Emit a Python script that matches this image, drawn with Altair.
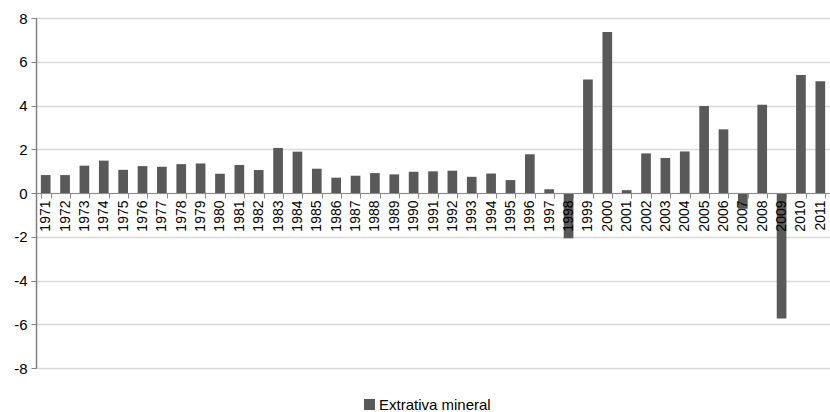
import altair as alt
import pandas as pd

years = ["1971", "1972", "1973", "1974", "1975", "1976", "1977", "1978", "1979", "1980",
         "1981", "1982", "1983", "1984", "1985", "1986", "1987", "1988", "1989", "1990",
         "1991", "1992", "1993", "1994", "1995", "1996", "1997", "1998", "1999", "2000",
         "2001", "2002", "2003", "2004", "2005", "2006", "2007", "2008", "2009", "2010",
         "2011"]
values = [0.82, 0.82, 1.25, 1.48, 1.06, 1.23, 1.20, 1.32, 1.35, 0.88,
          1.28, 1.05, 2.06, 1.89, 1.11, 0.70, 0.79, 0.91, 0.85, 0.97,
          0.99, 1.02, 0.74, 0.89, 0.59, 1.77, 0.17, -2.07, 5.19, 7.36,
          0.13, 1.81, 1.60, 1.90, 3.98, 2.91, -0.72, 4.03, -5.74, 5.39,
          5.11]
series_name = "Extrativa mineral"
y_ticks = [-8, -6, -4, -2, 0, 2, 4, 6, 8]

df = pd.DataFrame({"ano": years, "valor": values, "serie": [series_name] * len(years)})

FONT = "Liberation Sans"
PLOT_H = 350

chart = alt.Chart(df).mark_bar(color="#595959").encode(
    x=alt.X("ano:N", sort=years, title=None,
            scale=alt.Scale(paddingInner=0.5, paddingOuter=0.25),
            axis=alt.Axis(labelAngle=270, labelFontSize=14, labelFont=FONT,
                          labelColor="#000000", labelPadding=2,
                          tickBand="extent", tickSize=5, tickColor="#8c8c8c",
                          domainColor="#8c8c8c", domainWidth=1,
                          offset=-PLOT_H / 2, grid=False, zindex=1)),
    y=alt.Y("valor:Q", title=None,
            scale=alt.Scale(domain=[-8, 8], nice=False, zero=False),
            axis=alt.Axis(values=y_ticks, labelFontSize=15, labelFont=FONT,
                          labelColor="#000000", tickSize=5, tickColor="#808080",
                          domainColor="#808080", domainWidth=1.5,
                          labelExpr="toString(datum.value)",
                          gridColor="#d9d9d9", gridWidth=1.3, labelPadding=4)),
    color=alt.Color("serie:N", title=None,
                    scale=alt.Scale(domain=[series_name], range=["#595959"]),
                    legend=alt.Legend(orient="none", legendX=326, legendY=379,
                                      symbolType="square", symbolSize=120,
                                      symbolStrokeWidth=0, labelFontSize=15,
                                      labelFont=FONT, labelColor="#000000",
                                      labelOffset=2)),
).properties(
    width=794,
    height=PLOT_H,
    autosize=alt.AutoSizeParams(type="none"),
    padding={"left": 36, "top": 18, "right": 0, "bottom": 44},
    background="white",
).configure_view(stroke=None)

chart.save("out.html", embed_options={"renderer": "svg", "actions": False})
